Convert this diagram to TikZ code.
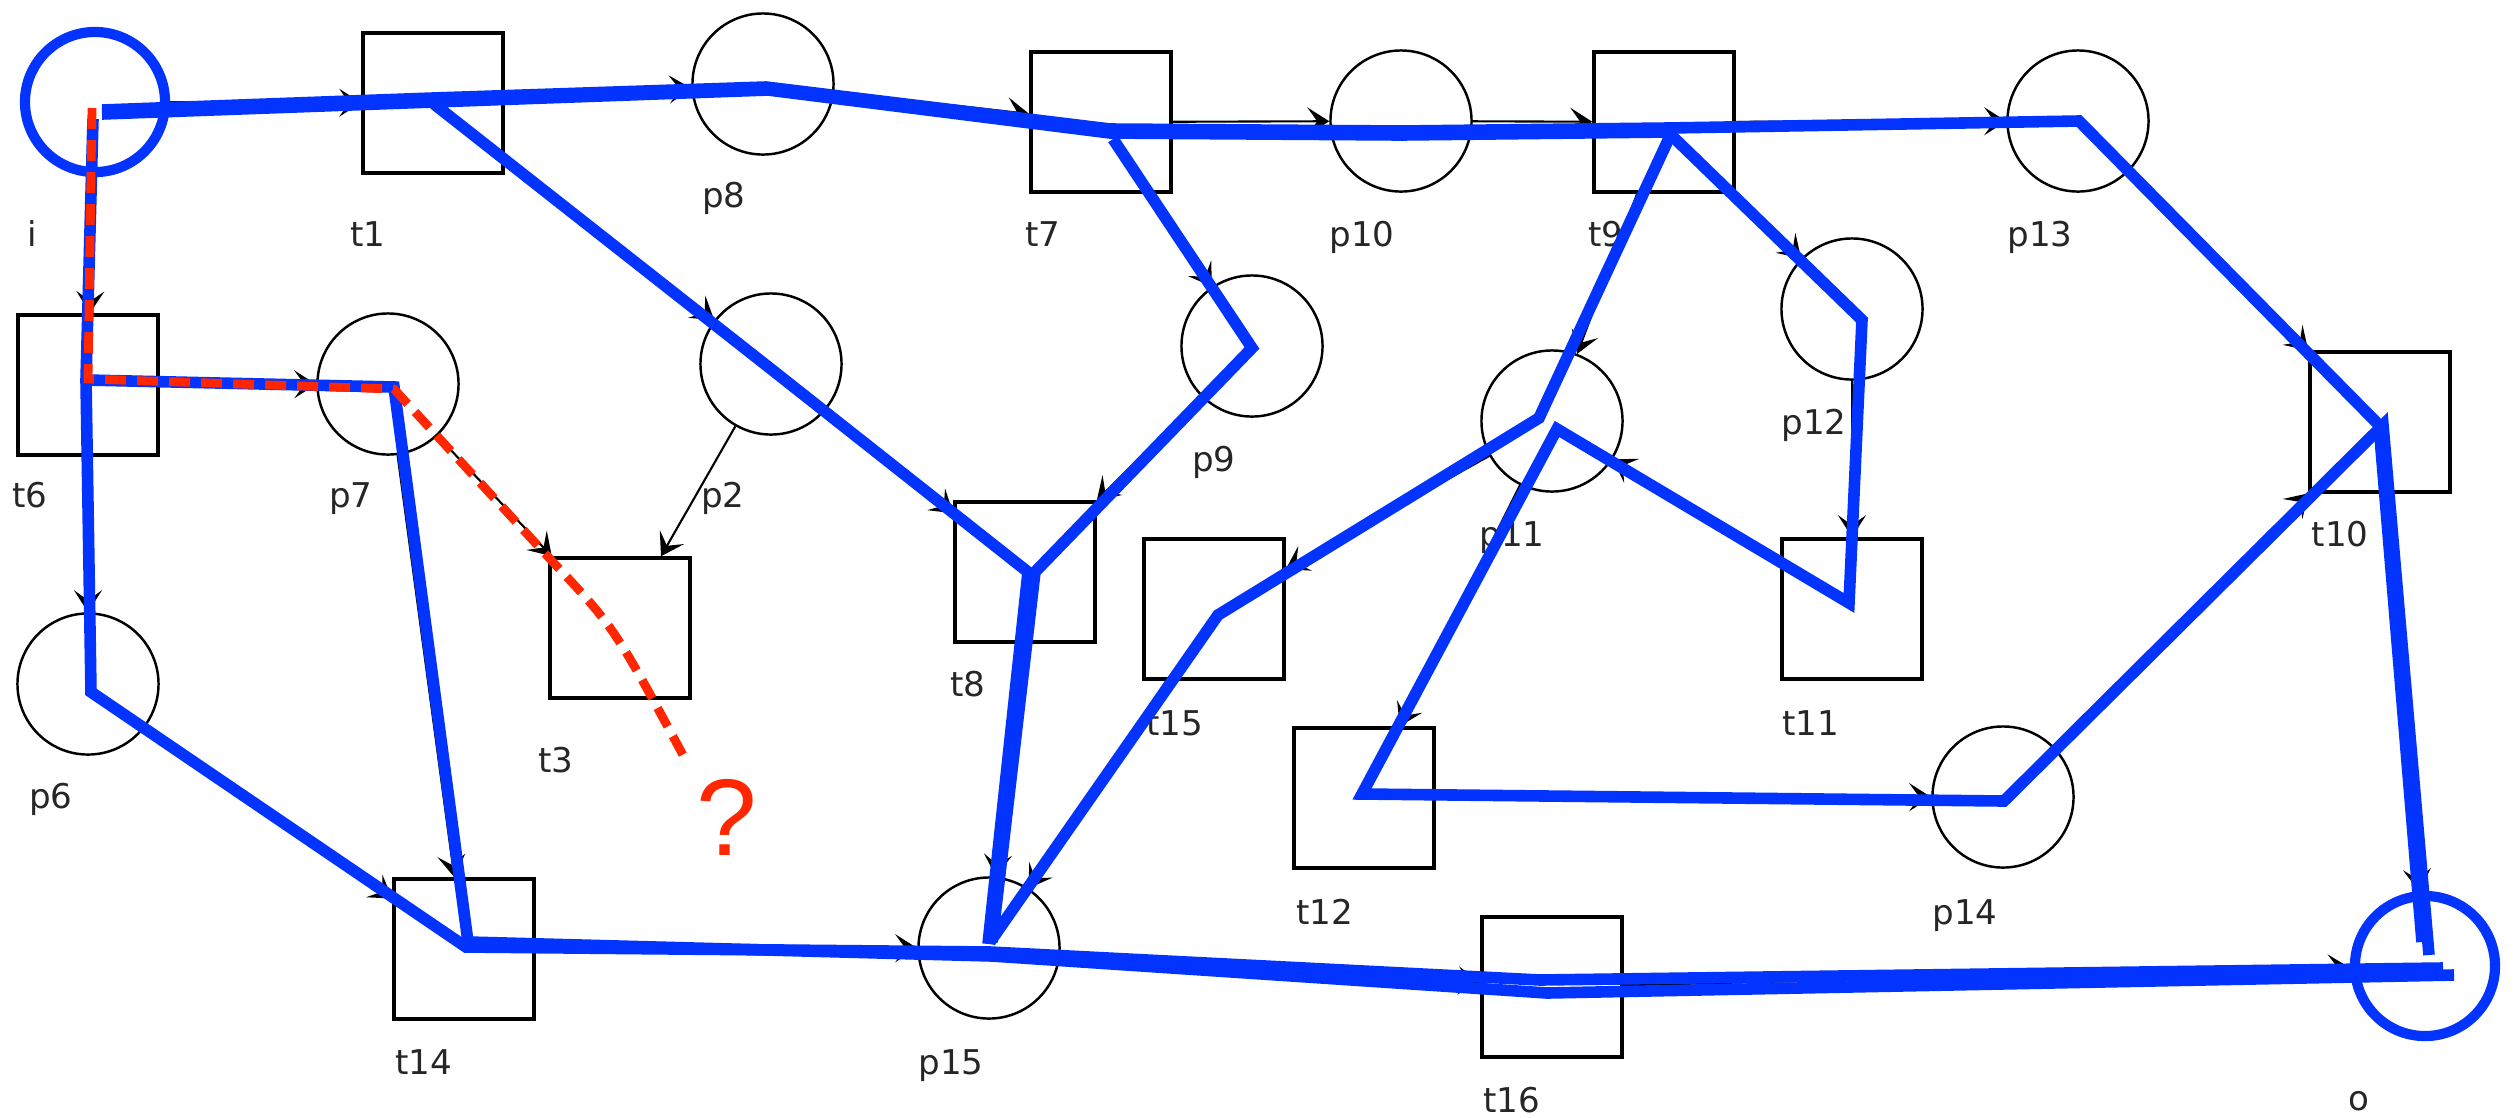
\documentclass[tikz,border=0pt]{standalone}
\usepackage{fontspec}
\setmainfont{DejaVu Sans}
\newfontfamily\qfont{Liberation Sans}
\usetikzlibrary{arrows.meta,calc}
\definecolor{traceblue}{RGB}{3,51,255}
\definecolor{tracered}{RGB}{255,38,0}

\begin{document}
\begin{tikzpicture}[
    x=0.01cm, y=-0.01cm,
    >={Stealth[length=2.2mm,width=2.8mm,inset=1mm]},
    font=\fontsize{9.7}{11}\selectfont,
    place/.style={
        circle,
        draw=black,
        line width=0.7pt,
        minimum size=1.41cm,
        inner sep=0pt
    },
    endplace/.style={
        place,
        draw=traceblue,
        line width=2.9pt,
        minimum size=1.40cm
    },
    trans/.style={
        rectangle,
        draw=black,
        line width=1pt,
        minimum width=1.40cm,
        minimum height=1.40cm,
        inner sep=0pt
    },
    tname/.style={
        anchor=base,
        text=black!85,
        inner sep=0pt
    },
    flow/.style={
        ->,
        draw=black,
        line width=0.6pt
    },
    tracepath/.style={
        draw=traceblue,
        line width=3.3pt
    },
    partpath/.style={
        draw=tracered,
        line width=2.5pt,
        dash pattern=on 0.21cm off 0.11cm
    }
  ]
  \useasboundingbox (0,0) rectangle (2517,1117);

  % the net: places and transitions
  \node [endplace] (i) at (95,102) {};
  \node [trans] (t1) at (433,103) {};
  \node [place] (p8) at (763,84) {};
  \node [trans] (t7) at (1101,122) {};
  \node [place] (p10) at (1401,121) {};
  \node [trans] (t9) at (1664,122) {};
  \node [place] (p13) at (2078,121) {};
  \node [trans] (t6) at (88,385) {};
  \node [place] (p7) at (388,384) {};
  \node [place] (p2) at (771,364) {};
  \node [place] (p9) at (1252,346) {};
  \node [place] (p11) at (1552,421) {};
  \node [place] (p12) at (1852,309) {};
  \node [trans] (t10) at (2380,422) {};
  \node [trans] (t3) at (620,628) {};
  \node [trans] (t8) at (1025,572) {};
  \node [trans] (t15) at (1214,609) {};
  \node [trans] (t11) at (1852,609) {};
  \node [place] (p6) at (88,684) {};
  \node [trans] (t12) at (1364,798) {};
  \node [place] (p14) at (2003,797) {};
  \node [trans] (t14) at (464,949) {};
  \node [place] (p15) at (989,948) {};
  \node [trans] (t16) at (1552,987) {};
  \node [endplace] (o) at (2425,966) {};

  % names under the nodes
  \node [tname] (li) at (32,246) {i};
  \node [tname] (lt1) at (368,246) {t1};
  \node [tname] (lp8) at (724,207) {p8};
  \node [tname] (lt7) at (1043,246) {t7};
  \node [tname] (lp10) at (1362,246) {p10};
  \node [tname] (lt9) at (1606,246) {t9};
  \node [tname] (lp13) at (2040,246) {p13};
  \node [tname] (lt6) at (30,507) {t6};
  \node [tname] (lp7) at (351,507) {p7};
  \node [tname] (lp2) at (723,507) {p2};
  \node [tname] (lp9) at (1214,471) {p9};
  \node [tname] (lp11) at (1512,546) {p11};
  \node [tname] (lp12) at (1814,434) {p12};
  \node [tname] (lt10) at (2340,546) {t10};
  \node [tname] (lt3) at (556,772) {t3};
  \node [tname] (lt8) at (968,696) {t8};
  \node [tname] (lt15) at (1175,735) {t15};
  \node [tname] (lt11) at (1811,735) {t11};
  \node [tname] (lp6) at (51,808) {p6};
  \node [tname] (lt12) at (1325,924) {t12};
  \node [tname] (lp14) at (1965,924) {p14};
  \node [tname] (lt14) at (424,1074) {t14};
  \node [tname] (lp15) at (951,1074) {p15};
  \node [tname] (lt16) at (1512,1112) {t16};
  \node [tname] (lo) at (2359,1110) {o};

  % arcs
  \draw [flow] (i) -- (t1);
  \draw [flow] (t1) -- (p8);
  \draw [flow] (p8) -- (t7);
  \draw [flow] (t7) -- (p10);
  \draw [flow] (p10) -- (t9);
  \draw [flow] (t9) -- (p13);
  \draw [flow] (p13) -- (t10);
  \draw [flow] (t10) -- (o);
  \draw [flow] (i) -- (t6);
  \draw [flow] (t6) -- (p7);
  \draw [flow] (t6) -- (p6);
  \draw [flow] (p6) -- (t14);
  \draw [flow] (p7) -- (t14);
  \draw [flow] (p7) -- (t3);
  \draw [flow] (p2) -- (t3);
  \draw [flow] (t1) -- (p2);
  \draw [flow] (p2) -- (t8);
  \draw [flow] (t7) -- (p9);
  \draw [flow] (p9) -- (t8);
  \draw [flow] (t9) -- (p11);
  \draw [flow] (t9) -- (p12);
  \draw [flow] (p12) -- (t11);
  \draw [flow] (t11) -- (p11);
  \draw [flow] (p11) -- (t15);
  \draw [flow] (p11) -- (t12);
  \draw [flow] (t12) -- (p14);
  \draw [flow] (p14) -- (t10);
  \draw [flow] (t8) -- (p15);
  \draw [flow] (t15) -- (p15);
  \draw [flow] (t14) -- (p15);
  \draw [flow] (p15) -- (t16);
  \draw [flow] (t16) -- (o);

  % traces
  \draw [tracepath] ($(i)+(7,8)$) -- ($(t1)+(0,-5)$) -- ($(p8)+(3,3)$) -- ($(t7)+(9,7)$) -- ($(p10)+(0,10)$) -- ($(t9)+(4,6)$) -- ($(p13)+(1,0)$) -- ($(t10)+(-1,3)$) -- ($(o)+(-3,-24)$);
  \draw [tracepath] ($(i)+(7,12)$) -- ($(t1)+(0,-1)$) -- ($(p8)+(5,6)$) -- ($(t7)+(9,11)$) -- ($(p10)+(0,14)$) -- ($(t9)+(4,10)$) -- ($(p12)+(10,11)$) -- ($(t11)+(-3,-6)$) -- ($(p11)+(5,8)$) -- ($(t12)+(-2,-4)$) -- ($(p14)+(1,4)$) -- ($(t10)+(3,3)$) -- ($(o)+(4,-11)$);
  \draw [tracepath] ($(t1)+(1,1)$) -- ($(p2)+(0,5)$) -- ($(t8)+(3,0)$) -- ($(p15)+(-1,-4)$);
  \draw [tracepath] ($(t7)+(12,17)$) -- ($(p9)+(0,2)$) -- ($(t8)+(10,0)$) -- ($(p15)+(3,-6)$);
  \draw [tracepath] ($(t9)+(6,14)$) -- ($(p11)+(-13,-3)$) -- ($(t15)+(4,6)$) -- ($(p15)+(1,-6)$);
  \draw [tracepath] ($(i)+(-2,17)$) -- ($(t6)+(-2,-5)$) -- ($(p6)+(3,8)$) -- ($(t14)+(2,-2)$) -- ($(p15)+(1,4)$) -- ($(t16)+(-12,-7)$) -- ($(o)+(18,2)$);
  \draw [tracepath] ($(t6)+(-2,-5)$) -- ($(p7)+(6,3)$) -- ($(t14)+(4,-7)$) -- ($(p15)+(3,8)$) -- ($(t16)+(-5,6)$) -- ($(o)+(29,9)$);

  % the unfinished trace
  \coordinate (gap) at (683,755);
  \node [text=tracered, font=\qfont\fontsize{31}{31}\selectfont, anchor=base, inner sep=0pt] (qmark) at (727,855) {?};
  \draw [partpath] ($(i)+(-3,6)$) -- ($(t6)+(0,-6)$) -- ($(p7)+(6,5)$) -- ($(t3.north west)+(3,4)$) .. controls ($(t3)+(-6,-1)$) .. (gap);
\end{tikzpicture}
\end{document}
